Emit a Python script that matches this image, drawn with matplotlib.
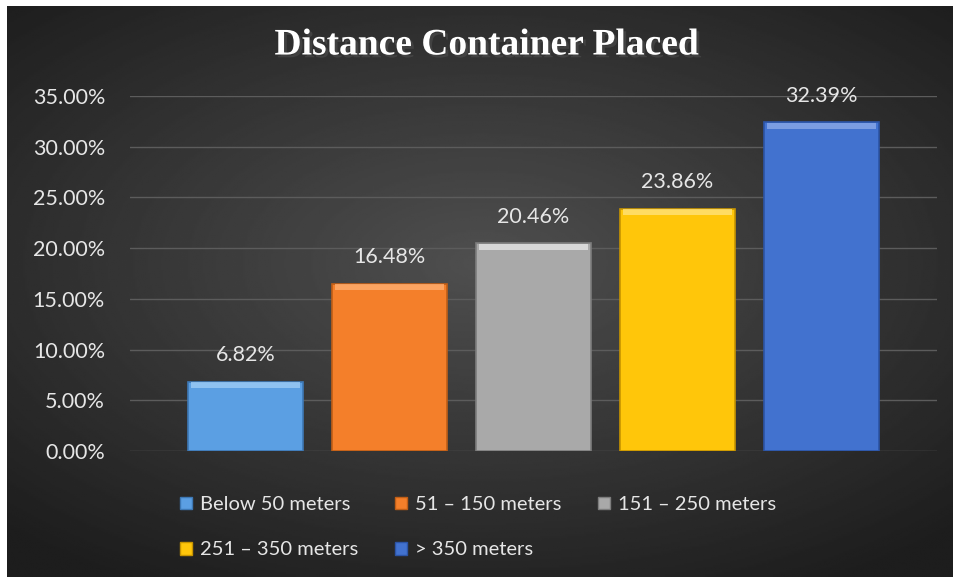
import numpy as np
import matplotlib
matplotlib.use("Agg")
import matplotlib.pyplot as plt
from matplotlib.patches import Patch
import matplotlib.patheffects as pe

categories = ["Below 50 meters", "51 \u2013 150 meters", "151 \u2013 250 meters",
              "251 \u2013 350 meters", "> 350 meters"]
values = [6.82, 16.48, 20.46, 23.86, 32.39]
colors = ["#5b9fe3", "#f47f2a", "#a9a9a9", "#ffc60a", "#4272cf"]
yticks = [0, 5, 10, 15, 20, 25, 30, 35]

plt.rcParams['font.family'] = ['Lato', 'DejaVu Sans']

fig = plt.figure(figsize=(9.54, 5.77), dpi=100)
fig.patch.set_facecolor("white")

# dark radial background
bg = fig.add_axes([7/954, 0, 947/954, 571/577])
yy, xx = np.mgrid[-1:1:300j, -1:1:500j]
r = np.sqrt((xx*0.9)**2 + ((yy+0.1)*1.0)**2)
bg.imshow(0.31 - 0.15*np.clip(r, 0, 1.3), cmap="gray", vmin=0, vmax=1,
          aspect="auto", extent=[0, 1, 0, 1])
bg.axis("off")

ax = fig.add_axes([130/954, 1-451/577, 807/954, 355/577])
ax.patch.set_alpha(0)
x = np.arange(len(values))
darks = ["#3d78b5", "#c05e16", "#7d7d7d", "#c79400", "#2c54a6"]
lights = ["#9dcbf5", "#ffae70", "#e3e3e3", "#ffe27a", "#8aa9e8"]
ax.bar(x, values, width=0.8, color=colors, edgecolor=darks, linewidth=1.2, zorder=3)
ax.bar(x, [0.55]*len(values), bottom=[v-0.6 for v in values], width=0.76,
       color=lights, linewidth=0, alpha=0.8, zorder=4)

for xi, v in zip(x, values):
    ax.annotate(f"{v:.2f}%", (xi, v), xytext=(0, 12), textcoords="offset points",
                ha="center", va="bottom", color="#e6e6e6", fontsize=15.5)

ax.set_ylim(0, 35)
ax.set_xlim(-0.8, 4.8)
ax.set_yticks(yticks)
ax.set_yticklabels([f"{t:.2f}%" for t in yticks], color="#e6e6e6", fontsize=15.5)
ax.set_xticks([])
ax.tick_params(axis="y", length=0, pad=18)
ax.grid(axis="y", color="#5c5c5c", linewidth=1, zorder=0)
for s in ax.spines.values():
    s.set_visible(False)

fig.text(0.51, 1-45/577, "Distance Container Placed", ha="center", va="center",
         fontsize=27, fontweight="bold", family="Liberation Serif", color="white",
         path_effects=[pe.withSimplePatchShadow(offset=(2, -2), alpha=0.6)])

handles = [Patch(facecolor=c, edgecolor=d) for c, d in zip(colors, darks)]
order = [0, 3, 1, 4, 2]
leg = fig.legend([handles[i] for i in order], [categories[i] for i in order],
                 ncol=3, loc="upper left", bbox_to_anchor=(162/954, 1-478/577),
                 frameon=False, fontsize=14.5, handlelength=0.6, handleheight=0.6,
                 handletextpad=0.4, columnspacing=1.8, labelspacing=1.4)
for t in leg.get_texts():
    t.set_color("#e6e6e6")

fig.savefig("out.png", dpi=100)
